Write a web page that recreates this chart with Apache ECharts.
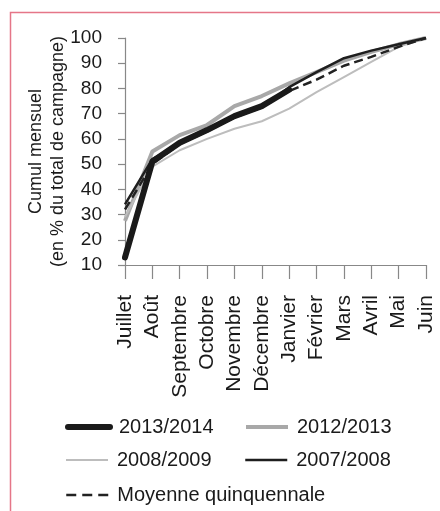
<!DOCTYPE html>
<html>
<head>
<meta charset="utf-8">
<script src="https://cdn.jsdelivr.net/npm/echarts@6/dist/echarts.min.js"></script>
<style>
html,body{margin:0;padding:0;background:#fff;}
#chart{width:440px;height:511px;}
</style>
</head>
<body>
<div id="chart"></div>
<script>
const months = ['Juillet','Août','Septembre','Octobre','Novembre','Décembre','Janvier','Février','Mars','Avril','Mai','Juin'];
const s2013_2014 = [13, 51, 58.5, 63.5, 69, 73, 79.5, null, null, null, null, null];
const s2012_2013 = [27.5, 55, 61.5, 65.5, 73, 77, 82, 86.5, 91, 94.5, 97.5, 100];
const s2008_2009 = [29, 49, 55.5, 60, 64, 67, 72, 78.5, 84.5, 90.5, 96.5, 100];
const s2007_2008 = [34, 52, 58, 63, 68.5, 72.5, 80.5, 86.5, 92, 95, 97.5, 100];
const moyenne = [32, 50, 58, 63, 68.5, 72.5, 79, 83.5, 89, 92.5, 96.5, 100];
const yTicks = {min: 10, max: 100, interval: 10};

const FONT = '"Liberation Sans", Arial, sans-serif';
const chart = echarts.init(document.getElementById('chart'));

function leg(name, left, top, width, color, type, cap) {
  return {
    data: [name], left: left, top: top, padding: 0,
    itemWidth: 42, itemHeight: 14,
    lineStyle: {width: width, color: color, type: type || 'solid', cap: cap || 'butt'},
    itemStyle: {opacity: 0, color: 'rgba(0,0,0,0)', borderWidth: 0},
    textStyle: {fontFamily: FONT, fontSize: 20, color: '#1a1a1a', lineHeight: 24, padding: [0, 0, 0, 4]},
    selectedMode: false
  };
}

const option = {
  animation: false,
  backgroundColor: '#fff',
  graphic: [{
    type: 'rect', shape: {x: 10.5, y: 12.5, width: 600, height: 600},
    style: {fill: 'none', stroke: '#e57688', lineWidth: 1.5}
  }],
  grid: {left: 125, right: 14, top: 38, bottom: 246, containLabel: false},
  legend: [
    leg('2013/2014', 65, 415, 6, '#1a1a1a', 'solid', 'round'),
    leg('2012/2013', 244, 415, 4, '#a8a8a8'),
    leg('2008/2009', 65, 448, 2, '#bdbdbd'),
    leg('2007/2008', 244, 448, 2.5, '#1e1e1e'),
    leg('Moyenne quinquennale', 65, 483, 2.5, '#222', [10, 6])
  ],
  xAxis: {
    type: 'category', data: months, boundaryGap: false,
    axisLine: {lineStyle: {color: '#888', width: 1.2}},
    axisTick: {length: 14, lineStyle: {color: '#888', width: 1.2}},
    axisLabel: {rotate: 90, margin: 30, interval: 0, fontFamily: FONT, fontSize: 21, color: '#1a1a1a'}
  },
  yAxis: {
    type: 'value', min: yTicks.min, max: yTicks.max, interval: yTicks.interval,
    name: 'Cumul mensuel\n(en % du total de campagne)',
    nameLocation: 'middle', nameRotate: 90, nameGap: 56, nameMoveOverlap: false,
    nameTextStyle: {fontFamily: FONT, fontSize: 18, color: '#1a1a1a', lineHeight: 22},
    axisLine: {show: true, lineStyle: {color: '#888', width: 1.2}},
    axisTick: {show: true, length: 7, lineStyle: {color: '#888', width: 1.2}},
    splitLine: {show: false},
    axisLabel: {margin: 23, fontFamily: FONT, fontSize: 19, color: '#1a1a1a'}
  },
  series: [
    {name: '2012/2013', type: 'line', data: s2012_2013, symbol: 'none', lineStyle: {color: '#a8a8a8', width: 4, join: 'round'}, itemStyle: {color: '#a8a8a8'}},
    {name: '2008/2009', type: 'line', data: s2008_2009, symbol: 'none', lineStyle: {color: '#bdbdbd', width: 2, join: 'round'}, itemStyle: {color: '#bdbdbd'}},
    {name: '2007/2008', type: 'line', data: s2007_2008, symbol: 'none', lineStyle: {color: '#1e1e1e', width: 2.5, join: 'round'}, itemStyle: {color: '#1e1e1e'}},
    {name: 'Moyenne quinquennale', type: 'line', data: moyenne, symbol: 'none', lineStyle: {color: '#222', width: 2.5, type: [9, 5]}, itemStyle: {color: '#222'}},
    {name: '2013/2014', type: 'line', data: s2013_2014, symbol: 'none', lineStyle: {color: '#1a1a1a', width: 6, join: 'round', cap: 'round'}, itemStyle: {color: '#1a1a1a'}}
  ]
};
chart.setOption(option);
</script>
</body>
</html>
